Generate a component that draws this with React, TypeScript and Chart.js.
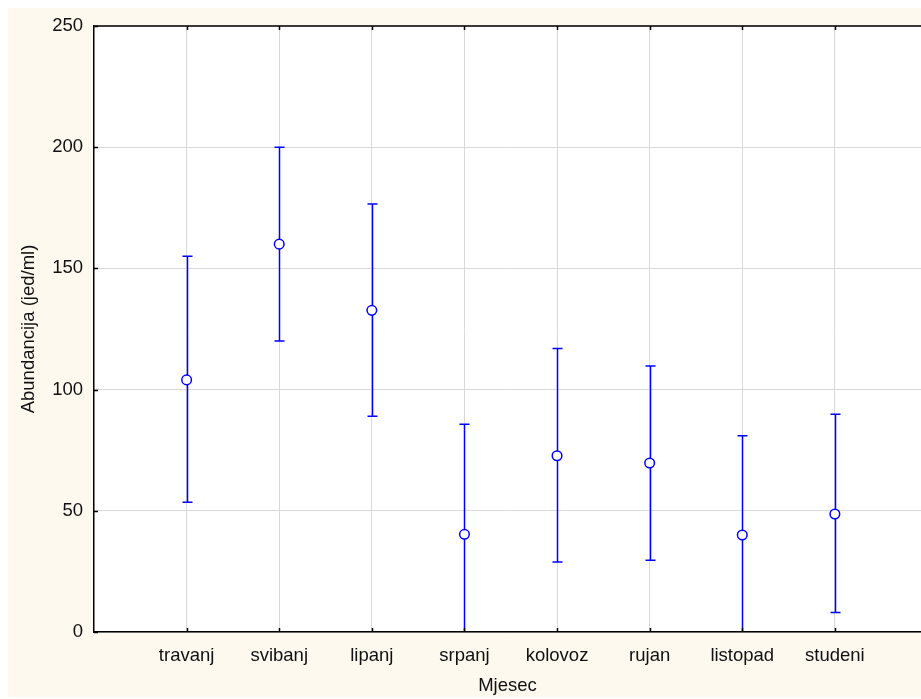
import React, { useEffect, useRef } from "react";
import { Chart, registerables } from "chart.js";

Chart.register(...registerables);

const months = ["travanj", "svibanj", "lipanj", "srpanj", "kolovoz", "rujan", "listopad", "studeni"];
const means = [104, 160, 132.7, 40.3, 72.7, 69.7, 40, 48.7];
const upper = [155, 200, 176.6, 85.7, 117, 109.7, 81, 89.8];
const lower = [53.5, 120, 89, -5, 28.9, 29.6, -1, 8];
const yTicks = [0, 50, 100, 150, 200, 250];

const CREAM = "rgb(253,249,238)";
const BLUE = "#0000ff";
const FONT = "'Liberation Sans', Arial, sans-serif";

const W = 913;
const H = 689;

const framePlugin = {
  id: "frame",
  beforeDraw(chart: any) {
    const { ctx, chartArea: a, width, height } = chart;
    ctx.save();
    ctx.fillStyle = CREAM;
    ctx.fillRect(0, 0, width, height);
    ctx.fillStyle = "#ffffff";
    ctx.fillRect(a.left, a.top, a.right - a.left, a.bottom - a.top);
    ctx.restore();
  },
  beforeDatasetsDraw(chart: any) {
    const { ctx, chartArea: a, scales } = chart;
    const xs = scales.x;
    const ys = scales.y;
    ctx.save();
    ctx.beginPath();
    ctx.rect(a.left, a.top, a.right - a.left, a.bottom - a.top);
    ctx.clip();
    ctx.strokeStyle = BLUE;
    ctx.lineWidth = 1.5;
    months.forEach((_, i) => {
      const x = Math.round(xs.getPixelForValue(i + 1)) + 0.5;
      const yt = ys.getPixelForValue(upper[i]);
      const yb = ys.getPixelForValue(lower[i]);
      ctx.beginPath();
      ctx.moveTo(x, yt);
      ctx.lineTo(x, yb);
      ctx.moveTo(x - 5, yt);
      ctx.lineTo(x + 5, yt);
      ctx.moveTo(x - 5, yb);
      ctx.lineTo(x + 5, yb);
      ctx.stroke();
    });
    ctx.restore();
  },
  afterDatasetsDraw(chart: any) {
    const { ctx, chartArea: a, scales } = chart;
    const xs = scales.x;
    const ys = scales.y;
    ctx.save();
    ctx.strokeStyle = "#3a3a3a";
    ctx.lineWidth = 2;
    ctx.beginPath();
    ctx.moveTo(a.left, a.top);
    ctx.lineTo(a.right, a.top);
    ctx.stroke();
    ctx.strokeStyle = "#000";
    ctx.lineWidth = 1.5;
    ctx.beginPath();
    months.forEach((_, i) => {
      const x = Math.round(xs.getPixelForValue(i + 1)) + 0.5;
      ctx.moveTo(x, a.bottom);
      ctx.lineTo(x, a.bottom - 4);
      ctx.moveTo(x, a.top);
      ctx.lineTo(x, a.top + 4);
    });
    yTicks.forEach((v) => {
      const y = Math.round(ys.getPixelForValue(v)) + 0.5;
      ctx.moveTo(a.left, y);
      ctx.lineTo(a.left + 4, y);
    });
    ctx.stroke();
    ctx.restore();
  },
};

if (typeof document !== "undefined") {
  document.body.style.marginRight = "0px";
  document.body.style.marginBottom = "0px";
  document.documentElement.style.overflow = "hidden";
}

export default function App() {
  const ref = useRef<HTMLCanvasElement | null>(null);
  useEffect(() => {
    if (!ref.current) return;
    const chart = new Chart(ref.current, {
      type: "scatter",
      data: {
        datasets: [
          {
            data: means.map((m, i) => ({ x: i + 1, y: m })),
            pointStyle: "circle",
            pointRadius: 4.8,
            pointHoverRadius: 4.8,
            pointBorderWidth: 1.5,
            borderColor: BLUE,
            backgroundColor: "#ffffff",
            showLine: false,
          },
        ],
      },
      options: {
        responsive: false,
        animation: false,
        events: [],
        layout: { autoPadding: false, padding: { top: 18, right: 0, left: 0, bottom: 0 } },
        plugins: { legend: { display: false }, tooltip: { enabled: false } },
        scales: {
          x: {
            type: "linear",
            min: 0,
            max: 8.93,
            afterBuildTicks: (s: any) => {
              s.ticks = months.map((_, i) => ({ value: i + 1 }));
            },
            afterFit: (s: any) => {
              s.height = 65;
              s.paddingLeft = 0;
              s.paddingRight = 0;
            },
            ticks: {
              autoSkip: false,
              maxRotation: 0,
              padding: 13,
              color: "#111",
              font: { family: FONT, size: 18.5 },
              callback: (v: any) => months[Number(v) - 1] ?? "",
            },
            grid: { color: "#d9d9d9", lineWidth: 1, drawTicks: false },
            border: { display: true, color: "#000", width: 1.5 },
            title: {
              display: true,
              text: "Mjesec",
              color: "#111",
              font: { family: FONT, size: 18.5 },
              padding: { top: 0, bottom: 0 },
            },
          },
          y: {
            type: "linear",
            min: 0,
            max: 250,
            afterBuildTicks: (s: any) => {
              s.ticks = yTicks.map((v) => ({ value: v }));
            },
            afterFit: (s: any) => {
              s.width = 86;
              s.paddingTop = 0;
              s.paddingBottom = 0;
            },
            ticks: {
              padding: 11,
              color: "#111",
              font: { family: FONT, size: 18.5 },
            },
            grid: { color: "#d9d9d9", lineWidth: 1, drawTicks: false },
            border: { display: true, color: "#000", width: 1.5 },
            title: {
              display: true,
              text: "Abundancija (jed/ml)",
              color: "#111",
              font: { family: FONT, size: 18.5 },
              padding: { top: 10, bottom: 0 },
            },
          },
        },
      },
      plugins: [framePlugin],
    });
    return () => chart.destroy();
  }, []);
  return (
    <div style={{ width: W + "px", height: H + "px" }}>
      <canvas
        ref={ref}
        width={W}
        height={H}
        style={{ display: "block", width: W + "px", height: H + "px" }}
      />
    </div>
  );
}
